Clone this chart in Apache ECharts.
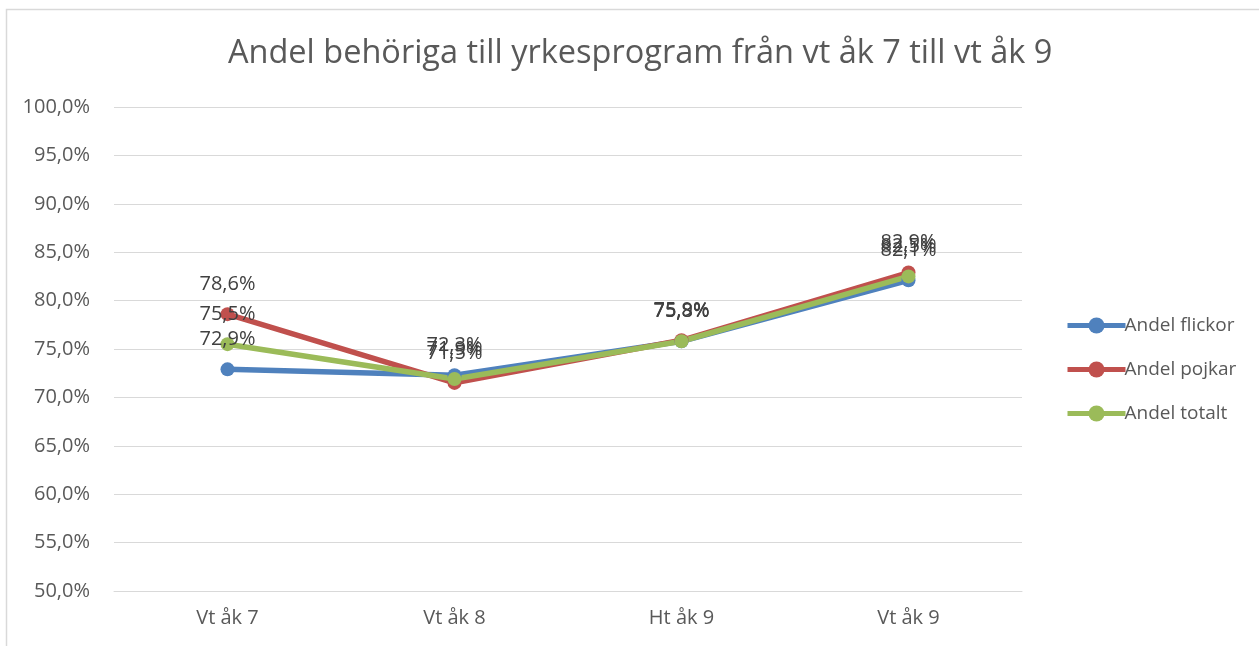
<!DOCTYPE html>
<html>
<head>
<meta charset="utf-8">
<script src="https://cdn.jsdelivr.net/npm/echarts@6/dist/echarts.min.js"></script>
<style>
  html, body { margin: 0; padding: 0; background: #fff; }
  #chart { width: 1259px; height: 646px; }
</style>
</head>
<body>
<div id="chart"></div>
<script>
var categories = ['Vt åk 7', 'Vt åk 8', 'Ht åk 9', 'Vt åk 9'];
var flickor = [72.9, 72.3, 75.8, 82.1];
var pojkar = [78.6, 71.5, 75.9, 82.9];
var totalt = [75.5, 71.9, 75.8, 82.5];
var seriesNames = ['Andel flickor', 'Andel pojkar', 'Andel totalt'];
var seriesColors = ['#4F81BD', '#C0504D', '#9BBB59'];

var fontFamily = '"Open Sans", "Noto Sans", sans-serif';

function fmt(v) {
    return v.toFixed(1).replace('.', ',') + '%';
}

function makeSeries(name, data, color) {
    return {
        name: name,
        type: 'line',
        data: data,
        symbol: 'circle',
        symbolSize: 14,
        lineStyle: { color: color, width: 5.5 },
        itemStyle: { color: color },
        label: {
            show: true,
            position: 'top',
            distance: 13,
            color: '#404040',
            fontSize: 20,
            fontFamily: fontFamily,
            formatter: function (p) { return fmt(p.value); }
        },
        animation: false
    };
}

var chart = echarts.init(document.getElementById('chart'));
chart.setOption({
    backgroundColor: '#fff',
    graphic: [{
        type: 'polyline',
        shape: { points: [[6.5, 660], [6.5, 9.5], [1262, 9.5]] },
        style: { stroke: '#D9D9D9', lineWidth: 1.5, fill: null },
        silent: true
    }],
    title: {
        text: 'Andel behöriga till yrkesprogram från vt åk 7 till vt åk 9',
        left: 223,
        top: 32,
        textStyle: {
            color: '#595959',
            fontSize: 32.5,
            fontWeight: 'normal',
            fontFamily: fontFamily
        }
    },
    legend: {
        orient: 'vertical',
        left: 1060,
        top: 311,
        itemGap: 25,
        itemWidth: 58,
        itemHeight: 20,
        lineStyle: { width: 5 },
        data: seriesNames,
        textStyle: { color: '#595959', fontSize: 19, fontFamily: fontFamily, padding: [0, 0, 0, -6] }
    },
    grid: { left: 114, right: 237, top: 107, bottom: 55, containLabel: false },
    xAxis: {
        type: 'category',
        data: categories,
        boundaryGap: true,
        axisLine: { show: true, lineStyle: { color: '#D9D9D9', width: 1 } },
        axisTick: { show: false },
        axisLabel: { color: '#595959', fontSize: 20, fontFamily: fontFamily, margin: 17 }
    },
    yAxis: {
        type: 'value',
        min: 50,
        max: 100,
        interval: 5,
        axisLine: { show: false },
        axisTick: { show: false },
        splitLine: { lineStyle: { color: '#D9D9D9', width: 1 } },
        axisLabel: {
            color: '#595959',
            fontSize: 20,
            fontFamily: fontFamily,
            margin: 24,
            formatter: function (v) { return fmt(v); }
        }
    },
    series: [
        makeSeries(seriesNames[0], flickor, seriesColors[0]),
        makeSeries(seriesNames[1], pojkar, seriesColors[1]),
        makeSeries(seriesNames[2], totalt, seriesColors[2])
    ]
});
</script>
</body>
</html>
